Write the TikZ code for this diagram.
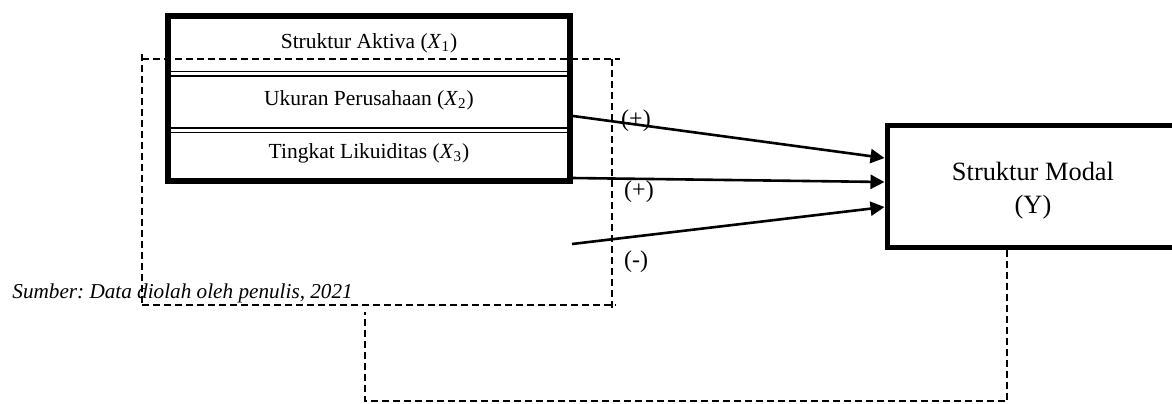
\documentclass[tikz,border=0pt]{standalone}
\usepackage{fontspec}
\setmainfont{Liberation Serif}
\usepackage{tikz}
\usetikzlibrary{arrows.meta,calc}
\frenchspacing

\tikzset{
  dashline/.style={line width=1.1pt, dash pattern=on 3.5pt off 2pt},
  effect/.style={line width=1.3pt, -{Triangle[length=7pt,width=7pt]}},
  sign/.style={font=\fontsize{12}{14}\selectfont, inner sep=0pt},
  rowtext/.style={font=\fontsize{10.75}{13}\selectfont, inner sep=0pt}
}

\begin{document}
\begin{tikzpicture}[x=0.5pt,y=-0.5pt]
  \useasboundingbox (0,0) rectangle (1172,403);
  % independent variables
  \node[draw, line width=3pt, minimum width=201pt, minimum height=82.5pt] (vars) at (369,98.5) {};
  \foreach \y in {71.5,76,128,132.5}
    \draw[line width=0.8pt] (vars.west |- 0,\y) -- (vars.east |- 0,\y);
  \node[rowtext] (x1) at (369,43) {Struktur Aktiva (\textit{X}\textsubscript{1})};
  \node[rowtext] (x2) at (369,100) {Ukuran Perusahaan (\textit{X}\textsubscript{2})};
  \node[rowtext] (x3) at (369,153) {Tingkat Likuiditas (\textit{X}\textsubscript{3})};
  % dependent variable
  \node[draw, line width=2.5pt, minimum width=146pt, minimum height=61pt] (modal) at (1033,186) {};
  \node[align=center, inner sep=0pt, font=\fontsize{13.2}{16.5}\selectfont] (modaltext) at (1033,191) {Struktur Modal\\(Y)};
  % dashed frame
  \draw[dashline] (142,59) -- (620,59);
  \draw[dashline] (142,54) -- (142,305);
  \draw[dashline] (612,59) -- (612,310);
  \draw[dashline] (142,305) -- (616,305);
  % effects
  \coordinate (free) at (572,244);
  \draw[effect] ($(vars.east)+(0,17.5)$) -- ($(modal.west)+(0,-28)$);
  \draw[effect] ($(vars.east)+(0,79.5)$) -- ($(modal.west)+(0,-4)$);
  \draw[effect] (free) -- ($(modal.west)+(0,21)$);
  \node[sign] (s1) at (636,121) {(+)};
  \node[sign] (s2) at (639,192) {(+)};
  \node[sign] (s3) at (636,262) {(-)};
  % back line
  \coordinate (bend) at (365,401);
  \coordinate (top) at (365,312);
  \draw[dashline] ($(modal.south)+(-26,0)$) |- (bend) -- (top);
  % source
  \node[anchor=base west, inner sep=0pt, font=\fontsize{10.6}{12}\selectfont\itshape] (src) at (12,298)
    {Sumber: Data diolah oleh penulis, 2021};
\end{tikzpicture}
\end{document}
